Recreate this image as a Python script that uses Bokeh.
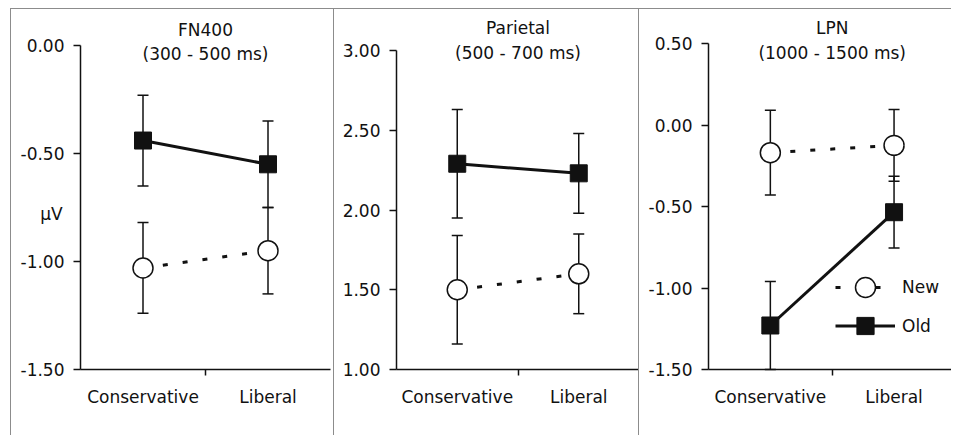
from bokeh.plotting import figure
from bokeh.models import (ColumnDataSource, Whisker, TeeHead, Label, FixedTicker,
                          Legend, LegendItem, Range1d, NumeralTickFormatter, Spacer)
from bokeh.layouts import row, column
from bokeh.embed import file_html
from bokeh.resources import INLINE

# ---------------- data ----------------
conditions = ["Conservative", "Liberal"]

fn400_old = [-0.44, -0.55]
fn400_old_se = [0.21, 0.20]
fn400_new = [-1.03, -0.95]
fn400_new_se = [0.21, 0.20]
fn400_ticks = [-1.5, -1.0, -0.5, 0.0]

parietal_old = [2.29, 2.23]
parietal_old_se = [0.34, 0.25]
parietal_new = [1.50, 1.60]
parietal_new_se = [0.34, 0.25]
parietal_ticks = [1.0, 1.5, 2.0, 2.5, 3.0]

lpn_new = [-0.17, -0.125]
lpn_new_se = [0.26, 0.22]
lpn_old = [-1.23, -0.535]
lpn_old_se = [0.27, 0.22]
lpn_ticks = [-1.5, -1.0, -0.5, 0.0, 0.5]

FONT = "DejaVu Sans"
FS = "17px"
INK = "#111111"
H = 427          # canvas height
AXIS_Y = 360     # canvas y of the x axis line


def make_panel(title, period, ticks, old, old_se, new, new_se,
               width, axis_px, unit_x, top_px, title_offsets,
               ylabel=None, legend=None):
    n = len(conditions)
    xs = [i + 0.5 for i in range(n)]
    x_start = -axis_px / unit_x
    x_end = (width - axis_px) / unit_x
    span = ticks[-1] - ticks[0]
    unit_y = (AXIS_Y - top_px) / span
    y_end = ticks[-1] + top_px / unit_y
    y_start = ticks[0] - (H - AXIS_Y) / unit_y
    p = figure(width=width, height=H,
               x_range=Range1d(x_start, x_end),
               y_range=Range1d(y_start, y_end),
               output_backend="svg", toolbar_location=None,
               min_border_left=0, min_border_right=0,
               min_border_top=0, min_border_bottom=0)
    p.xgrid.visible = False
    p.ygrid.visible = False
    p.outline_line_color = None
    p.background_fill_color = "white"
    p.border_fill_color = "white"

    # y axis, fixed at x = 0
    ya = p.yaxis[0]
    ya.fixed_location = 0
    ya.bounds = (ticks[0], ticks[-1])
    ya.ticker = FixedTicker(ticks=ticks)
    ya.formatter = NumeralTickFormatter(format="0.00")
    ya.axis_line_width = 1.5
    ya.axis_line_color = INK
    ya.major_tick_in = 0
    ya.major_tick_out = 7
    ya.major_tick_line_width = 1.5
    ya.major_tick_line_color = INK
    ya.minor_tick_in = 0
    ya.minor_tick_out = 0
    ya.major_label_standoff = 9
    ya.major_label_text_font = FONT
    ya.major_label_text_font_size = FS
    ya.major_label_text_color = INK

    # x axis, fixed at the lowest y tick
    xa = p.xaxis[0]
    xa.fixed_location = ticks[0]
    xa.bounds = (0, n)
    mids = [(xs[i] + xs[i + 1]) / 2 for i in range(n - 1)]
    xa.ticker = FixedTicker(ticks=xs, minor_ticks=mids)
    xa.major_label_overrides = {x: c for x, c in zip(xs, conditions)}
    xa.axis_line_width = 1.5
    xa.axis_line_color = INK
    xa.major_tick_in = 0
    xa.major_tick_out = 0
    xa.minor_tick_in = 0
    xa.minor_tick_out = 6
    xa.minor_tick_line_width = 1.5
    xa.minor_tick_line_color = INK
    xa.major_label_standoff = 11
    xa.major_label_text_font = FONT
    xa.major_label_text_font_size = FS
    xa.major_label_text_color = INK

    # error bars
    for m, se in ((old, old_se), (new, new_se)):
        src = ColumnDataSource(dict(x=xs,
                                    upper=[a + b for a, b in zip(m, se)],
                                    lower=[a - b for a, b in zip(m, se)]))
        w = Whisker(base="x", upper="upper", lower="lower", source=src,
                    line_color=INK, line_width=1.5,
                    upper_head=TeeHead(size=11, line_color=INK, line_width=1.5),
                    lower_head=TeeHead(size=11, line_color=INK, line_width=1.5))
        p.add_layout(w)

    old_line = p.line(xs, old, line_color=INK, line_width=3)
    new_line = p.line(xs, new, line_color=INK, line_width=3, line_dash="5 15")
    old_pts = p.scatter(xs, old, marker="square", size=17, fill_color=INK,
                        line_color=INK, line_width=1)
    new_pts = p.scatter(xs, new, marker="circle", size=20, fill_color="white",
                        line_color=INK, line_width=1.5)

    cx = n / 2
    for txt, off in ((title, title_offsets[0]), (period, title_offsets[1])):
        p.add_layout(Label(x=cx, y=ticks[-1], y_offset=off, text=txt,
                           text_align="center", text_baseline="middle",
                           text_font=FONT, text_font_size=FS, text_color=INK))
    if ylabel:
        p.add_layout(Label(x=0, y=ylabel[1], x_offset=-29, text=ylabel[0],
                           text_align="center", text_baseline="middle",
                           text_font=FONT, text_font_size=FS, text_color=INK))
    if legend:
        lx = legend[2]
        base = H - AXIS_Y
        for lab, rends, gh, ly in ((legend[0], [new_line, new_pts], 50, 57),
                                   (legend[1], [old_line, old_pts], 43, 22)):
            lg = Legend(items=[LegendItem(label=lab, renderers=rends)],
                        location=(lx, ly + base), glyph_width=60, glyph_height=gh,
                        label_standoff=7, padding=0, margin=0,
                        border_line_color=None, background_fill_alpha=0,
                        label_text_font=FONT, label_text_font_size=FS,
                        label_text_color=INK)
            p.add_layout(lg)
    return p


BORDER = "1px solid #8c8c8c"
p1 = make_panel("FN400", "(300 - 500 ms)", fn400_ticks,
                fn400_old, fn400_old_se, fn400_new, fn400_new_se,
                width=323, axis_px=69, unit_x=125, top_px=36,
                title_offsets=(16, -8), ylabel=("μV", -0.78))
p2 = make_panel("Parietal", "(500 - 700 ms)", parietal_ticks,
                parietal_old, parietal_old_se, parietal_new, parietal_new_se,
                width=305, axis_px=62, unit_x=121.5, top_px=41,
                title_offsets=(23, -2))
p3 = make_panel("LPN", "(1000 - 1500 ms)", lpn_ticks,
                lpn_old, lpn_old_se, lpn_new, lpn_new_se,
                width=313, axis_px=69, unit_x=123.7, top_px=34,
                title_offsets=(16, -9), legend=("New", "Old", 196))
for p in (p1, p2, p3):
    p.styles = {"border-left": BORDER, "border-top": BORDER}

layout = column(Spacer(height=8), row(Spacer(width=10), p1, p2, p3))

open("out.html", "w").write(file_html(layout, INLINE))
